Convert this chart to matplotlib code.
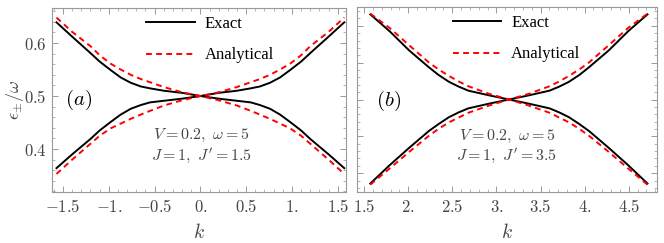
import numpy as np
import matplotlib.pyplot as plt
from matplotlib.ticker import FixedLocator, MultipleLocator

plt.rcParams['mathtext.fontset'] = 'cm'

# panel (a): J' = 1.5, k in [-pi/2, pi/2]
k_a = [-1.571, -1.4, -1.2, -1.1, -0.98, -0.87, -0.76, -0.65, -0.55, -0.4, -0.2, 0.0,
       0.2, 0.4, 0.55, 0.65, 0.76, 0.87, 0.98, 1.1, 1.2, 1.4, 1.571]
exact_up_a = [0.639, 0.612, 0.581, 0.565, 0.549, 0.535, 0.525, 0.518, 0.5145, 0.510, 0.506, 0.500,
              0.506, 0.510, 0.5145, 0.518, 0.525, 0.535, 0.549, 0.565, 0.581, 0.612, 0.639]
exact_dn_a = [0.364, 0.390, 0.419, 0.435, 0.451, 0.465, 0.476, 0.483, 0.488, 0.491, 0.495, 0.500,
              0.495, 0.491, 0.488, 0.483, 0.476, 0.465, 0.451, 0.435, 0.419, 0.390, 0.364]
anal_up_a = [0.648, 0.621, 0.594, 0.577, 0.561, 0.550, 0.540, 0.532, 0.526, 0.517, 0.507, 0.500,
             0.507, 0.517, 0.526, 0.532, 0.540, 0.550, 0.561, 0.577, 0.594, 0.621, 0.648]
anal_dn_a = [0.353, 0.380, 0.410, 0.425, 0.439, 0.448, 0.457, 0.465, 0.472, 0.482, 0.492, 0.500,
             0.492, 0.482, 0.472, 0.465, 0.457, 0.448, 0.439, 0.425, 0.410, 0.380, 0.353]

# panel (b): J' = 3.5, k in [pi/2, 3pi/2]
k_b = [1.571, 1.791, 2.012, 2.232, 2.342, 2.462, 2.572, 2.682, 2.922, 3.142,
       3.362, 3.602, 3.712, 3.822, 3.942, 4.052, 4.272, 4.492, 4.712]
exact_up_b = [0.731, 0.685, 0.633, 0.588, 0.567, 0.548, 0.535, 0.524, 0.511, 0.500,
              0.511, 0.524, 0.535, 0.548, 0.567, 0.588, 0.633, 0.685, 0.731]
exact_dn_b = [0.272, 0.322, 0.369, 0.414, 0.433, 0.452, 0.465, 0.476, 0.489, 0.500,
              0.489, 0.476, 0.465, 0.452, 0.433, 0.414, 0.369, 0.322, 0.272]
anal_up_b = [0.733, 0.694, 0.647, 0.601, 0.582, 0.564, 0.549, 0.536, 0.515, 0.500,
             0.515, 0.536, 0.549, 0.564, 0.582, 0.601, 0.647, 0.694, 0.733]
anal_dn_b = [0.269, 0.313, 0.358, 0.401, 0.420, 0.438, 0.451, 0.464, 0.484, 0.500,
             0.484, 0.464, 0.451, 0.438, 0.420, 0.401, 0.358, 0.313, 0.269]

xt_a = [-1.5, -1.0, -0.5, 0.0, 0.5, 1.0, 1.5]
xl_a = ['$-1.5$', '$-1.$', '$-0.5$', '$0.$', '$0.5$', '$1.$', '$1.5$']
xt_b = [1.5, 2.0, 2.5, 3.0, 3.5, 4.0, 4.5]
xl_b = ['$1.5$', '$2.$', '$2.5$', '$3.$', '$3.5$', '$4.$', '$4.5$']
yt_a = [0.4, 0.5, 0.6]
yl_a = ['$0.4$', '$0.5$', '$0.6$']
yt_b = [0.3, 0.4, 0.5, 0.6, 0.7]

fig = plt.figure(figsize=(6.64, 2.43), dpi=100)
ax1 = fig.add_axes([52/664, 51/243, 294/664, 184/243])
ax2 = fig.add_axes([357/664, 51/243, 300/664, 185/243])

edge = '#999999'
txt = '#444444'

def style(ax):
    for s in ax.spines.values():
        s.set_color(edge)
        s.set_linewidth(0.8)
    ax.tick_params(which='both', direction='in', top=True, right=True,
                   color=edge, labelcolor=txt, labelsize=12)
    ax.tick_params(which='major', length=4, width=0.7, pad=4)
    ax.tick_params(which='minor', length=2, width=0.5)

def draw(ax, k, eu, ed, au, ad):
    ax.plot(k, eu, color='black', lw=1.4, label='Exact')
    ax.plot(k, ed, color='black', lw=1.4)
    ax.plot(k, au, color='red', lw=1.4, ls=(0, (3, 2.2)), label='Analytical')
    ax.plot(k, ad, color='red', lw=1.4, ls=(0, (3, 2.2)))
    ax.legend(loc='upper left', bbox_to_anchor=(0.27, 1.04), frameon=False,
              handlelength=2.9, labelspacing=0.95, handletextpad=0.6,
              prop={'family': 'Liberation Serif', 'size': 12})

draw(ax1, k_a, exact_up_a, exact_dn_a, anal_up_a, anal_dn_a)
draw(ax2, k_b, exact_up_b, exact_dn_b, anal_up_b, anal_dn_b)

ax1.set_xlim(-1.62, 1.59)
ax1.set_ylim(0.319, 0.666)
ax1.xaxis.set_major_locator(FixedLocator(xt_a))
ax1.set_xticklabels(xl_a)
ax1.xaxis.set_minor_locator(MultipleLocator(0.1))
ax1.yaxis.set_major_locator(FixedLocator(yt_a))
ax1.set_yticklabels(yl_a)
ax1.yaxis.set_minor_locator(MultipleLocator(0.02))
style(ax1)

ax2.set_xlim(1.42, 4.82)
ax2.set_ylim(0.249, 0.751)
ax2.xaxis.set_major_locator(FixedLocator(xt_b))
ax2.set_xticklabels(xl_b)
ax2.xaxis.set_minor_locator(MultipleLocator(0.1))
ax2.yaxis.set_major_locator(FixedLocator(yt_b))
ax2.yaxis.set_minor_locator(MultipleLocator(0.02))
ax2.set_yticklabels([])
style(ax2)

ax1.set_xlabel('$k$', fontsize=14, color=txt, labelpad=5)
ax2.set_xlabel('$k$', fontsize=14, color=txt, labelpad=5)
ax1.set_ylabel(r'$\epsilon_{\pm}/\omega$', fontsize=13, color=txt, va='center')
ax1.yaxis.set_label_coords(-0.125, 0.5)

ax1.text(0.045, 0.5, '$(a)$', transform=ax1.transAxes, fontsize=15, color='black', va='center')
ax2.text(0.065, 0.49, '$(b)$', transform=ax2.transAxes, fontsize=15, color='black', va='center')

ax1.text(0.01, 0.426, r'$V=0.2,\ \omega=5$', fontsize=11.5, color=txt, ha='center', va='center')
ax1.text(0.01, 0.388, r"$J=1,\ J'=1.5$", fontsize=11.5, color=txt, ha='center', va='center')
ax2.text(3.12, 0.401, r'$V=0.2,\ \omega=5$', fontsize=11.5, color=txt, ha='center', va='center')
ax2.text(3.12, 0.348, r"$J=1,\ J'=3.5$", fontsize=11.5, color=txt, ha='center', va='center')

fig.savefig('out.png', dpi=100)
